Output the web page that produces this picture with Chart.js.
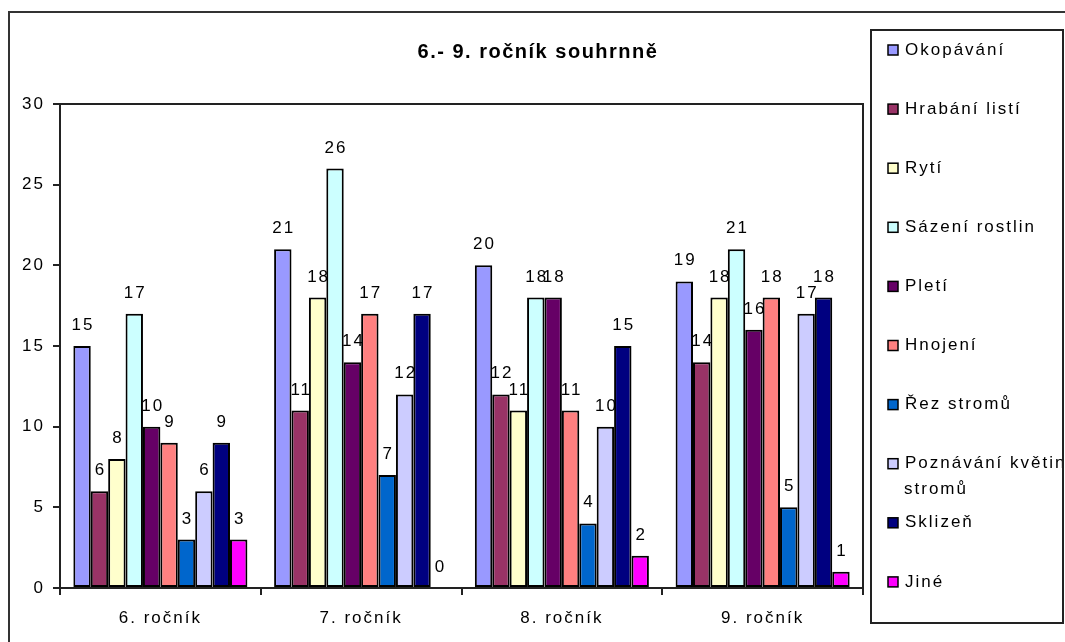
<!DOCTYPE html>
<html>
<head>
<meta charset="utf-8">
<script src="https://cdn.jsdelivr.net/npm/chart.js@4/dist/chart.umd.min.js"></script>
<style>
  html, body { margin: 0; padding: 0; background: #fff; }
  #wrap { width: 1065px; height: 642px; position: relative; }
</style>
</head>
<body>
<div id="wrap"><canvas id="c" width="1065" height="642"></canvas></div>
<script>
const categories = ["6. ročník", "7. ročník", "8. ročník", "9. ročník"];
const seriesNames = ["Okopávání", "Hrabání listí", "Rytí", "Sázení rostlin", "Pletí", "Hnojení", "Řez stromů", ["Poznávání květin", "stromů"], "Sklizeň", "Jiné"];
const okopavani   = [15, 21, 20, 19];
const hrabani     = [6, 11, 12, 14];
const ryti        = [8, 18, 11, 18];
const sazeni      = [17, 26, 18, 21];
const pleti       = [10, 14, 18, 16];
const hnojeni     = [9, 17, 11, 18];
const rezStromu   = [3, 7, 4, 5];
const poznavani   = [6, 12, 10, 17];
const sklizen     = [9, 17, 15, 18];
const jine        = [3, 0, 2, 1];
const yTicks      = [0, 5, 10, 15, 20, 25, 30];
const colors = ["#9999FF", "#993366", "#FFFFCC", "#CCFFFF", "#660066", "#FF8080", "#0066CC", "#CCCCFF", "#000080", "#FF00FF"];
const seriesValues = [okopavani, hrabani, ryti, sazeni, pleti, hnojeni, rezStromu, poznavani, sklizen, jine];

const FONT = "'Liberation Sans', Arial, sans-serif";

const datasets = seriesValues.map((vals, i) => ({
  label: Array.isArray(seriesNames[i]) ? seriesNames[i].join(' ') : seriesNames[i],
  data: vals,
  backgroundColor: colors[i],
  borderColor: '#000',
  borderWidth: 2,
  borderSkipped: false,
  categoryPercentage: 0.867,
  barPercentage: 1.0
}));

const decor = {
  id: 'decor',
  beforeDraw(chart) {
    const ctx = chart.ctx;
    ctx.letterSpacing = '2px';
    ctx.save();
    ctx.fillStyle = '#fff';
    ctx.fillRect(0, 0, chart.width, chart.height);
    ctx.strokeStyle = '#333';
    ctx.lineWidth = 2;
    ctx.strokeRect(9, 12, 1070, 640);
    ctx.fillStyle = '#000';
    ctx.font = "bold 20px " + FONT;
    ctx.letterSpacing = '1.5px';
    ctx.textAlign = 'center';
    ctx.textBaseline = 'middle';
    ctx.fillText("6.- 9. ročník souhrnně", 538, 52);
    ctx.restore();
    ctx.letterSpacing = '2px';
  },
  beforeDatasetsDraw(chart) {
    const ctx = chart.ctx;
    ctx.save();
    ctx.font = "17px " + FONT;
    ctx.letterSpacing = '2px';
    ctx.fillStyle = '#000';
    ctx.textAlign = 'center';
    ctx.textBaseline = 'alphabetic';
    chart.data.datasets.forEach((ds, di) => {
      const meta = chart.getDatasetMeta(di);
      meta.data.forEach((el, i) => {
        ctx.fillText(String(ds.data[i]), el.x + 1, el.y - 16);
      });
    });
    ctx.restore();
  },
  afterDraw(chart) {
    const ctx = chart.ctx;
    const a = chart.chartArea;
    ctx.save();
    ctx.strokeStyle = '#222';
    ctx.lineWidth = 2;
    ctx.beginPath();
    ctx.moveTo(a.left, a.top);
    ctx.lineTo(a.right, a.top);
    ctx.lineTo(a.right, a.bottom);
    ctx.stroke();
    const lx = 871, ly = 30, lw = 192, lh = 593;
    ctx.fillStyle = '#fff';
    ctx.fillRect(lx, ly, lw, lh);
    ctx.strokeStyle = '#222';
    ctx.lineWidth = 2;
    ctx.strokeRect(lx, ly, lw, lh);
    ctx.beginPath();
    ctx.rect(lx + 1, ly + 1, lw - 2, lh - 2);
    ctx.clip();
    ctx.font = "17px " + FONT;
    ctx.letterSpacing = '2px';
    ctx.textAlign = 'left';
    ctx.textBaseline = 'middle';
    seriesNames.forEach((name, i) => {
      const y = 50 + i * 59.1;
      ctx.fillStyle = colors[i];
      ctx.fillRect(888, y - 5, 10, 10);
      ctx.strokeStyle = '#000';
      ctx.lineWidth = 1.5;
      ctx.strokeRect(888, y - 5, 10, 10);
      ctx.fillStyle = '#000';
      const lines = Array.isArray(name) ? name : [name];
      lines.forEach((t, k) => ctx.fillText(t, k === 0 ? 905 : 904, y + k * 26));
    });
    ctx.restore();
  }
};

new Chart(document.getElementById('c'), {
  type: 'bar',
  data: { labels: categories, datasets },
  options: {
    responsive: false,
    animation: false,
    layout: { padding: { top: 104, right: 202, left: 0, bottom: 0 } },
    plugins: { legend: { display: false }, title: { display: false }, tooltip: { enabled: false } },
    scales: {
      x: {
        grid: { display: true, offset: true, drawOnChartArea: false, drawTicks: true, tickLength: 7, color: '#222', lineWidth: 2 },
        border: { display: true, color: '#222', width: 2 },
        ticks: { color: '#000', font: { size: 17, family: FONT }, padding: 13, maxRotation: 0 },
        afterFit(scale) { scale.height = 54; }
      },
      y: {
        min: 0, max: 30,
        afterBuildTicks(scale) { scale.ticks = yTicks.map(v => ({ value: v })); },
        grid: { display: true, drawOnChartArea: false, drawTicks: true, tickLength: 7, color: '#222', lineWidth: 2 },
        border: { display: true, color: '#222', width: 2 },
        ticks: { color: '#000', font: { size: 17, family: FONT }, padding: 8 },
        afterFit(scale) { scale.width = 60; }
      }
    }
  },
  plugins: [decor]
});
</script>
</body>
</html>
